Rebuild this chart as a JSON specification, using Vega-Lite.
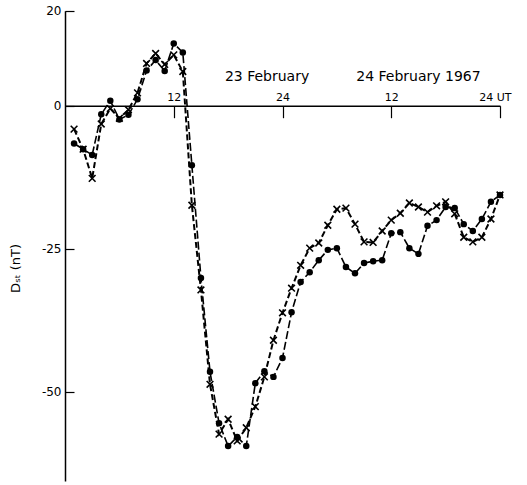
{
  "$schema": "https://vega.github.io/schema/vega-lite/v6.json",
  "width": 435,
  "height": 471,
  "autosize": {"type": "none"},
  "padding": {"left": 65, "top": 10, "right": 27, "bottom": 4},
  "background": "white",
  "config": {
    "view": {"stroke": null},
    "font": "DejaVu Sans",
    "axis": {"domainColor": "black", "tickColor": "black", "labelColor": "black", "titleColor": "black", "grid": false, "domainWidth": 1.5, "tickWidth": 1.2}
  },
  "datasets": {
    "dots": [
      {"h": 1, "dst": -6.6}, {"h": 2, "dst": -7.6}, {"h": 3, "dst": -8.6}, {"h": 4, "dst": -1.5},
      {"h": 5, "dst": 1.05}, {"h": 6, "dst": -2.4}, {"h": 7, "dst": -1.6}, {"h": 8, "dst": 1.35},
      {"h": 9, "dst": 7.4}, {"h": 10, "dst": 9.6}, {"h": 11, "dst": 7.3}, {"h": 12, "dst": 13.1},
      {"h": 13, "dst": 11.2}, {"h": 14, "dst": -10.4}, {"h": 15, "dst": -30.1}, {"h": 16, "dst": -46.5},
      {"h": 17, "dst": -55.5}, {"h": 18, "dst": -59.5}, {"h": 19, "dst": -57.9}, {"h": 20, "dst": -59.5},
      {"h": 21, "dst": -48.5}, {"h": 22, "dst": -46.4}, {"h": 23, "dst": -47.4}, {"h": 24, "dst": -44.1},
      {"h": 25, "dst": -36.1}, {"h": 26, "dst": -30.8}, {"h": 27, "dst": -29.1}, {"h": 28, "dst": -27.0},
      {"h": 29, "dst": -25.2}, {"h": 30, "dst": -24.9}, {"h": 31, "dst": -28.2}, {"h": 32, "dst": -29.3},
      {"h": 33, "dst": -27.5}, {"h": 34, "dst": -27.2}, {"h": 35, "dst": -27.0}, {"h": 36, "dst": -22.3},
      {"h": 37, "dst": -22.1}, {"h": 38, "dst": -24.9}, {"h": 39, "dst": -25.9}, {"h": 40, "dst": -21.0},
      {"h": 41, "dst": -20.0}, {"h": 42, "dst": -17.7}, {"h": 43, "dst": -17.9}, {"h": 44, "dst": -20.7},
      {"h": 45, "dst": -21.9}, {"h": 46, "dst": -19.8}, {"h": 47, "dst": -16.8}, {"h": 48, "dst": -15.6}
    ],
    "crosses": [
      {"h": 1, "dst": -4.1}, {"h": 2, "dst": -7.6}, {"h": 3, "dst": -12.7}, {"h": 4, "dst": -3.2},
      {"h": 5, "dst": -0.5}, {"h": 6, "dst": -2.2}, {"h": 7, "dst": -0.7}, {"h": 8, "dst": 2.7},
      {"h": 9, "dst": 8.9}, {"h": 10, "dst": 11.0}, {"h": 11, "dst": 8.7}, {"h": 12, "dst": 10.7},
      {"h": 13, "dst": 7.2}, {"h": 14, "dst": -17.4}, {"h": 15, "dst": -32.2}, {"h": 16, "dst": -48.7},
      {"h": 17, "dst": -57.4}, {"h": 18, "dst": -54.8}, {"h": 19, "dst": -58.6}, {"h": 20, "dst": -56.3},
      {"h": 21, "dst": -52.6}, {"h": 22, "dst": -47.4}, {"h": 23, "dst": -41.0}, {"h": 24, "dst": -36.2},
      {"h": 25, "dst": -31.9}, {"h": 26, "dst": -27.9}, {"h": 27, "dst": -24.9}, {"h": 28, "dst": -24.0},
      {"h": 29, "dst": -20.9}, {"h": 30, "dst": -18.1}, {"h": 31, "dst": -17.9}, {"h": 32, "dst": -20.7},
      {"h": 33, "dst": -23.8}, {"h": 34, "dst": -23.9}, {"h": 35, "dst": -21.9}, {"h": 36, "dst": -20.0},
      {"h": 37, "dst": -18.8}, {"h": 38, "dst": -17.0}, {"h": 39, "dst": -17.7}, {"h": 40, "dst": -18.6},
      {"h": 41, "dst": -17.5}, {"h": 42, "dst": -16.8}, {"h": 43, "dst": -18.9}, {"h": 44, "dst": -23.0},
      {"h": 45, "dst": -23.8}, {"h": 46, "dst": -23.0}, {"h": 47, "dst": -19.8}, {"h": 48, "dst": -15.6}
    ]
  },
  "layer": [
    {
      "data": {"name": "crosses"},
      "mark": {"type": "line", "color": "black", "strokeWidth": 2, "strokeDash": [6, 3]},
      "encoding": {
        "x": {
          "field": "h", "type": "quantitative",
          "scale": {"domain": [0, 48], "nice": false, "zero": false},
          "axis": {
            "orient": "top", "offset": -95.7, "values": [12, 24, 36, 48],
            "labelExpr": "datum.value == 48 ? '24 UT' : datum.value == 36 ? '12' : datum.label",
            "tickSize": -12, "labelPadding": 15, "labelFontSize": 11,
            "labelOffset": {"condition": {"test": "datum.value == 48", "value": 11}, "value": 0},
            "title": null
          }
        },
        "y": {
          "field": "dst", "type": "quantitative",
          "scale": {"domain": [-65.6, 0, 20], "range": [471, 95.7, 0.7], "nice": false, "zero": false},
          "axis": {
            "orient": "left", "values": [-50, -25, 0, 20],
            "labelExpr": "replace(datum.label, '−', '-')",
            "tickSize": -9, "labelPadding": 13, "labelFontSize": 12,
            "title": "Dₛₜ (nT)", "titleFontSize": 13, "titleFontWeight": "normal",
            "titleX": -43, "titleY": 258
          }
        }
      }
    },
    {
      "data": {"name": "dots"},
      "mark": {"type": "line", "color": "black", "strokeWidth": 1.6, "strokeDash": [8, 3]},
      "encoding": {
        "x": {"field": "h", "type": "quantitative"},
        "y": {"field": "dst", "type": "quantitative"}
      }
    },
    {
      "data": {"name": "crosses"},
      "mark": {"type": "point", "shape": "M-1,-1L1,1M1,-1L-1,1", "filled": false, "color": "black", "strokeWidth": 1.6, "size": 45, "opacity": 1},
      "encoding": {
        "x": {"field": "h", "type": "quantitative"},
        "y": {"field": "dst", "type": "quantitative"}
      }
    },
    {
      "data": {"name": "dots"},
      "mark": {"type": "point", "shape": "circle", "filled": true, "color": "black", "size": 42, "opacity": 1},
      "encoding": {
        "x": {"field": "h", "type": "quantitative"},
        "y": {"field": "dst", "type": "quantitative"}
      }
    },
    {
      "data": {"values": [{"label": "23 February"}]},
      "mark": {"type": "text", "fontSize": 14, "color": "black", "baseline": "middle", "align": "center"},
      "encoding": {"x": {"datum": 22.3}, "y": {"datum": 6}, "text": {"field": "label"}}
    },
    {
      "data": {"values": [{"label": "24 February 1967"}]},
      "mark": {"type": "text", "fontSize": 14, "color": "black", "baseline": "middle", "align": "center"},
      "encoding": {"x": {"datum": 39}, "y": {"datum": 6}, "text": {"field": "label"}}
    }
  ]
}
